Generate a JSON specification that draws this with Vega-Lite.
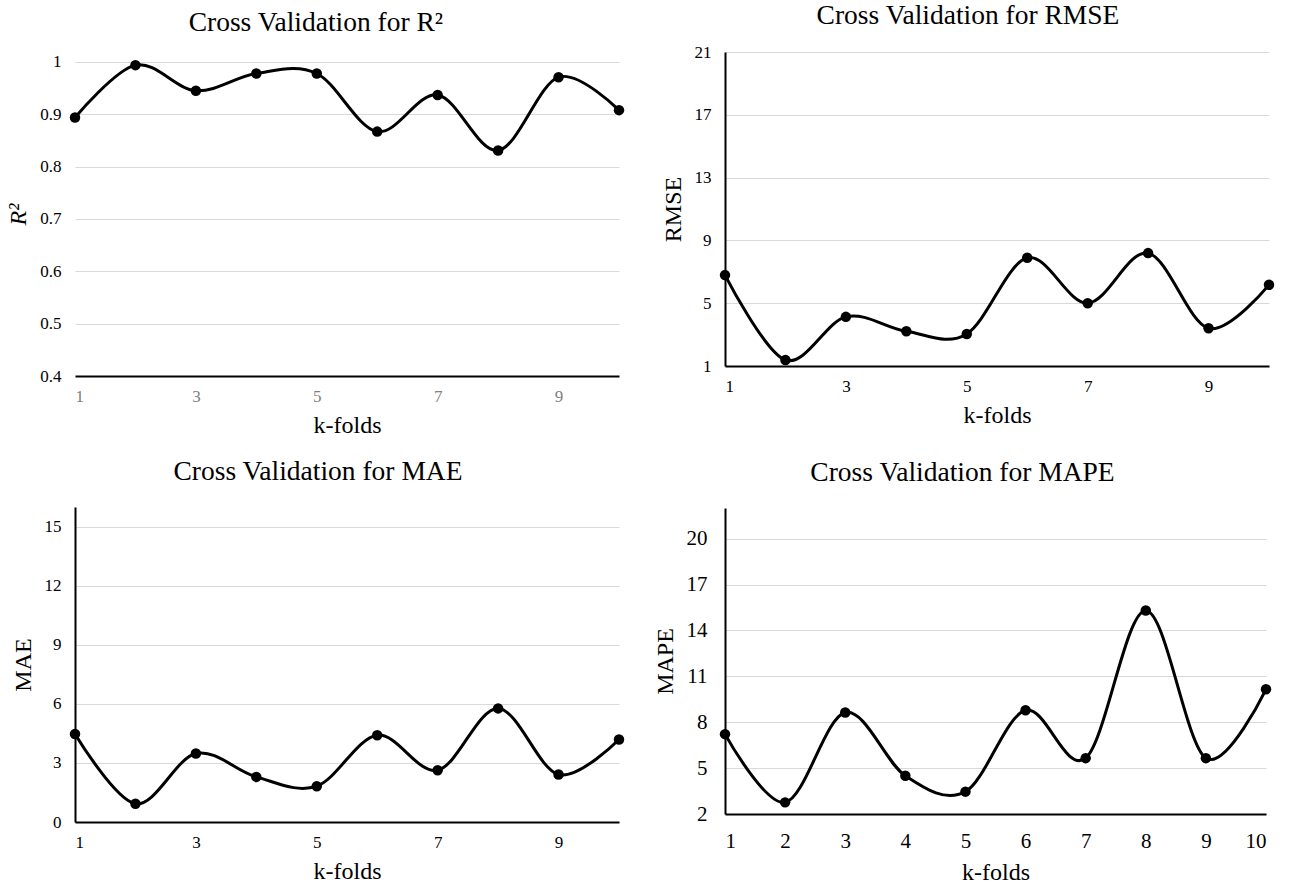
{
  "$schema": "https://vega.github.io/schema/vega-lite/v6.json",
  "background": "white",
  "padding": {"left": 6, "top": 2, "right": 0, "bottom": 0},
  "datasets": {
    "cv": [
      {"k": 1, "r2": 0.894, "rmse": 6.79, "mae": 4.47, "mape": 7.22},
      {"k": 2, "r2": 0.994, "rmse": 1.38, "mae": 0.93, "mape": 2.76},
      {"k": 3, "r2": 0.945, "rmse": 4.13, "mae": 3.48, "mape": 8.63},
      {"k": 4, "r2": 0.978, "rmse": 3.21, "mae": 2.29, "mape": 4.5},
      {"k": 5, "r2": 0.978, "rmse": 3.04, "mae": 1.82, "mape": 3.46},
      {"k": 6, "r2": 0.867, "rmse": 7.89, "mae": 4.41, "mape": 8.78},
      {"k": 7, "r2": 0.937, "rmse": 5.0, "mae": 2.63, "mape": 5.65},
      {"k": 8, "r2": 0.831, "rmse": 8.19, "mae": 5.77, "mape": 15.3},
      {"k": 9, "r2": 0.971, "rmse": 3.4, "mae": 2.41, "mape": 5.65},
      {"k": 10, "r2": 0.908, "rmse": 6.17, "mae": 4.19, "mape": 10.15}
    ]
  },
  "config": {
    "font": "Liberation Serif",
    "view": {"stroke": null},
    "axis": {
      "domainColor": "#000000",
      "domainWidth": 2,
      "ticks": false,
      "labelColor": "#000000",
      "labelFontSize": 17,
      "titleFontSize": 24,
      "titleFontWeight": "normal",
      "titleColor": "#000000",
      "gridColor": "#d9d9d9",
      "gridWidth": 1.2
    },
    "axisX": {"grid": false, "labelPadding": 12, "titlePadding": 9},
    "axisY": {"labelPadding": 14, "titlePadding": 9},
    "title": {"fontSize": 27.5, "fontWeight": "normal", "color": "#000000", "frame": "bounds", "anchor": "middle", "offset": 22}
  },
  "columns": 2,
  "align": "none",
  "spacing": 28,
  "concat": [
    {
      "spacing": 20,
      "vconcat": [
        {
          "title": {"text": "Cross Validation for R²", "offset": 16},
          "width": 544,
          "height": 324,
          "encoding": {
            "x": {"field": "k", "type": "quantitative", "title": "k-folds", "scale": {"domain": [1, 10], "nice": false, "zero": false}, "axis": {"values": [1, 3, 5, 7, 9], "labelColor": "#808080"}},
            "y": {"field": "r2", "type": "quantitative", "title": "R²", "scale": {"domain": [0.4, 1.0191], "nice": false, "zero": false}, "axis": {"values": [0.4, 0.5, 0.6, 0.7, 0.8, 0.9, 1], "format": "~g", "titleFontStyle": "italic", "domain": false}}
          },
          "layer": [
            {
              "data": {"values": [{"axis": "y"}]},
              "mark": {"type": "rule", "color": "#000000", "strokeWidth": 2},
              "encoding": {"x": {"datum": 1, "type": "quantitative"}, "y": {"datum": 0.4, "type": "quantitative"}, "y2": {"datum": 1}}
            },
            {"data": {"name": "cv"}, "mark": {"type": "line", "interpolate": "cardinal", "color": "#000000", "strokeWidth": 3}},
            {"data": {"name": "cv"}, "mark": {"type": "circle", "color": "#000000", "size": 110, "opacity": 1}}
          ]
        },
        {
          "title": "Cross Validation for MAE",
          "width": 544,
          "height": 315,
          "data": {"name": "cv"},
          "encoding": {
            "x": {"field": "k", "type": "quantitative", "title": "k-folds", "scale": {"domain": [1, 10], "nice": false, "zero": false}, "axis": {"values": [1, 3, 5, 7, 9]}},
            "y": {"field": "mae", "type": "quantitative", "title": "MAE", "scale": {"domain": [0, 16], "nice": false, "zero": false}, "axis": {"values": [0, 3, 6, 9, 12, 15]}}
          },
          "layer": [
            {"mark": {"type": "line", "interpolate": "cardinal", "color": "#000000", "strokeWidth": 3}},
            {"mark": {"type": "circle", "color": "#000000", "size": 110, "opacity": 1}}
          ]
        }
      ]
    },
    {
      "spacing": 31,
      "vconcat": [
        {
          "title": {"text": "Cross Validation for RMSE", "offset": 13.5},
          "width": 544,
          "height": 314,
          "data": {"name": "cv"},
          "encoding": {
            "x": {"field": "k", "type": "quantitative", "title": "k-folds", "scale": {"domain": [1, 10], "nice": false, "zero": false}, "axis": {"values": [1, 3, 5, 7, 9]}},
            "y": {"field": "rmse", "type": "quantitative", "title": "RMSE", "scale": {"domain": [1, 21], "nice": false, "zero": false}, "axis": {"values": [1, 5, 9, 13, 17, 21]}}
          },
          "layer": [
            {"mark": {"type": "line", "interpolate": "cardinal", "color": "#000000", "strokeWidth": 3}},
            {"mark": {"type": "circle", "color": "#000000", "size": 110, "opacity": 1}}
          ]
        },
        {
          "title": "Cross Validation for MAPE",
          "width": 541,
          "height": 306,
          "data": {"name": "cv"},
          "encoding": {
            "x": {"field": "k", "type": "quantitative", "title": "k-folds", "scale": {"domain": [1, 10], "nice": false, "zero": false}, "axis": {"values": [1, 2, 3, 4, 5, 6, 7, 8, 9, 10], "labelFontSize": 21, "labelPadding": 16}},
            "y": {"field": "mape", "type": "quantitative", "title": "MAPE", "scale": {"domain": [2, 22], "nice": false, "zero": false}, "axis": {"values": [2, 5, 8, 11, 14, 17, 20], "labelFontSize": 21, "labelPadding": 18}}
          },
          "layer": [
            {"mark": {"type": "line", "interpolate": "cardinal", "color": "#000000", "strokeWidth": 3}},
            {"mark": {"type": "circle", "color": "#000000", "size": 110, "opacity": 1}}
          ]
        }
      ]
    }
  ]
}
